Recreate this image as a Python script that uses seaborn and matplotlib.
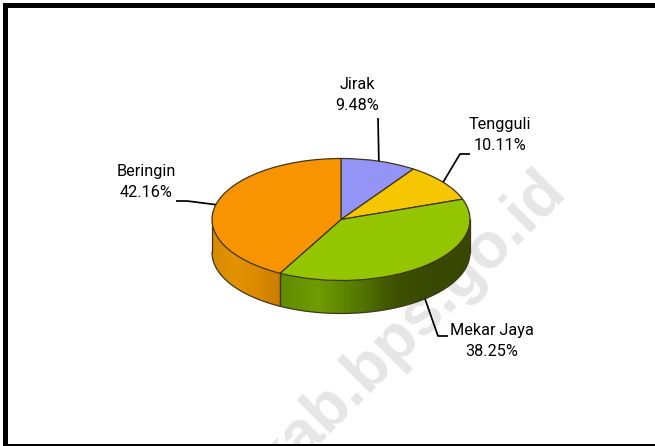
import numpy as np
import matplotlib
matplotlib.use('Agg')
import matplotlib.pyplot as plt
import seaborn as sns
from matplotlib.patches import Rectangle, Polygon

regions = ['Jirak', 'Tengguli', 'Mekar Jaya', 'Beringin']
shares = [9.48, 10.11, 38.25, 42.16]
top_colors = ['#9494F7', '#F6C600', '#94C600', '#F79400']
wall_stops = [None, None,
              ['#5f8c00', '#6f9c00', '#557a00', '#3e5200', '#384800', '#384800'],
              ['#d58a00', '#e39300', '#dc8a00', '#cc7c00']]
label_pos = [(357, 95), (500, 135.5), (492, 341), (146, 182)]
elbows = [[(378, 118)], [(470, 154), (460, 154)], [(448, 336), (438, 336)], [(176, 201), (187, 201)]]

W, H = 655, 446
CX, CY, RX, RY, DEPTH = 341, 219.5, 129, 61, 33
EDGE = '#40351a'

sns.set_theme(style='white')
plt.rcParams['font.family'] = ['Roboto', 'Liberation Sans', 'DejaVu Sans']


def px(x, y):
    return (x - CX) / RX, (CY - y) / RY


fig = plt.figure(figsize=(W / 100, H / 100), dpi=100, facecolor='white')
ax = fig.add_axes([0, 0, 1, 1])

wedges, _ = ax.pie(shares, colors=top_colors, startangle=90, counterclock=False,
                   radius=1, wedgeprops=dict(edgecolor=EDGE, linewidth=0.9))
for w in wedges:
    w.set_zorder(4)

depth = DEPTH / RY

# side wall, only the front half of each slice shows
for i, w in enumerate(wedges):
    a, b = max(w.theta1, -180), min(w.theta2, 0)
    if a >= b:
        continue
    th = np.radians(np.linspace(a, b, 120))
    rim_x, rim_y = np.cos(th), np.sin(th)
    verts = np.r_[np.c_[rim_x, rim_y], np.c_[rim_x, rim_y - depth][::-1]]
    shades = np.array(sns.blend_palette(wall_stops[i], 256))[None, :, :]
    im = ax.imshow(shades, extent=[rim_x.min(), rim_x.max(), -1 - depth, 0], aspect='auto',
                   interpolation='bilinear', zorder=2)
    im.set_clip_path(Polygon(verts, transform=ax.transData))
    ax.plot(rim_x, rim_y - depth, color=EDGE, lw=0.9, zorder=3)
    for x_, y_ in [(rim_x[0], rim_y[0]), (rim_x[-1], rim_y[-1])]:
        ax.plot([x_, x_], [y_, y_ - depth], color=EDGE, lw=0.9, zorder=3)

# leader lines start on the rim at the middle of the slice
for i, w in enumerate(wedges):
    mid = np.radians((w.theta1 + w.theta2) / 2)
    x0, y0 = np.cos(mid), np.sin(mid)
    if y0 < 0:
        y0 -= depth
    pts = [px(*p) for p in elbows[i]]
    xs = [p[0] for p in pts] + [x0]
    ys = [p[1] for p in pts] + [y0]
    ax.plot(xs, ys, color='black', lw=1.25, zorder=5, solid_capstyle='butt')
    lx, ly = px(*label_pos[i])
    ax.text(lx, ly, f'{regions[i]}\n{shares[i]:.2f}%', ha='center', va='center',
            fontsize=11.7, color='black', linespacing=1.5, zorder=6)

# watermark sits behind the pie
wx, wy = px(276, 483)
ax.text(wx, wy, 'kab.bps.go.id', rotation=45, rotation_mode='anchor', ha='left', va='baseline',
        fontsize=46, fontweight='bold', family='Liberation Sans', color='#e6e6e6', zorder=0)

ax.set_aspect('auto')
ax.set_xlim(px(0, 0)[0], px(W, 0)[0])
ax.set_ylim(px(0, H)[1], px(0, 0)[1])
ax.axis('off')

# frame: heavy on top and left, thin at the bottom, open on the right
for x, y, w_, h_ in [(3, 3.5, W - 3, 4.8), (3, 3.5, 5, H - 5), (3, 444, W - 3, 1.5)]:
    fig.add_artist(Rectangle((x / W, 1 - (y + h_) / H), w_ / W, h_ / H, transform=fig.transFigure,
                             facecolor='black', edgecolor='none'))

fig.savefig('out.png', dpi=100)
